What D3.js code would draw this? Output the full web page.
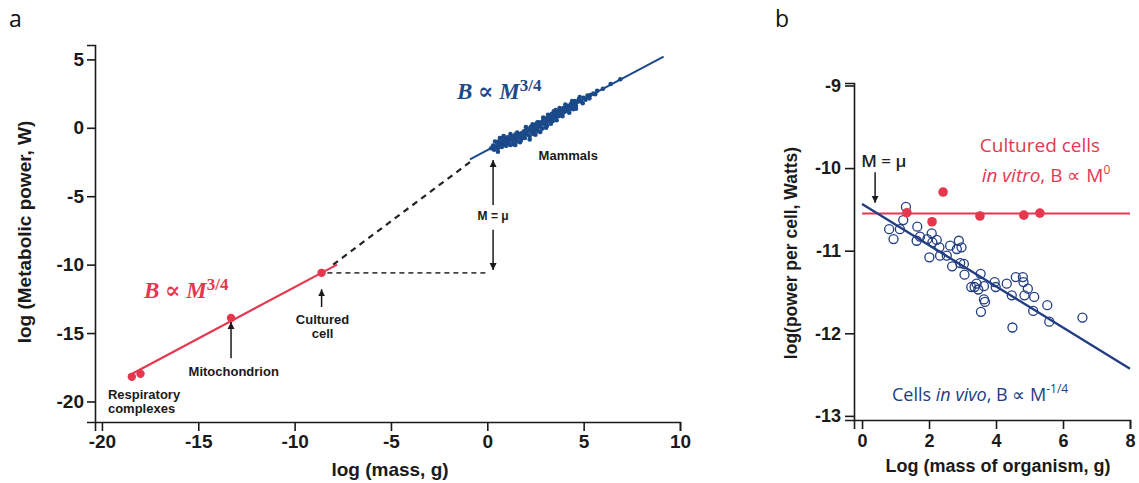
<!DOCTYPE html>
<html><head><meta charset="utf-8">
<script src="https://cdn.jsdelivr.net/npm/d3@7/dist/d3.min.js"></script>
<style>body{margin:0;background:#fff} svg{display:block}</style>
</head><body><svg id="c" width="1139" height="483"></svg>
<script>
// ---------- Panel a data ----------
const aXTicks = [-20, -15, -10, -5, 0, 5, 10];
const aYTicks = [5, 0, -5, -10, -15, -20];
const aCellPoints = [[-18.45, -18.2], [-18.0, -17.98], [-13.3, -13.9], [-8.6, -10.6]];
const aCellFit = [[-18.6, -18.1], [-7.8, -10.0]];
const aBridge = [[-8.0, -10.0], [-0.8, -2.4]];
const aMuLevel = [[-8.3, -10.6], [0.0, -10.6]];
const aMammalFit = [[-0.9, -2.3], [9.15, 5.2]];
const aMammals = [
  [0.2,-1.5],[0.3,-1.3],[0.35,-1.6],[0.45,-1.35],[0.5,-1.05],[0.55,-1.5],[0.6,-1.25],[0.65,-0.75],
  [0.7,-1.15],[0.75,-1.4],[0.8,-0.95],[0.85,-1.2],[0.9,-0.8],[0.95,-1.3],[1.0,-0.95],[1.05,-0.7],
  [1.1,-1.1],[1.15,-0.85],[1.2,-1.25],[1.25,-0.6],[1.3,-0.95],[1.35,-0.75],[1.4,-1.05],[1.45,-0.5],
  [1.5,-0.85],[1.55,-0.65],[1.6,-1.0],[1.65,-0.45],[1.7,-0.7],[1.75,-0.9],[1.8,-0.4],[1.85,-0.6],
  [1.9,-0.25],[1.95,-0.75],[2.0,-0.35],[2.05,-0.05],[2.1,-0.5],[2.15,-0.2],[2.2,-0.6],[2.25,0.05],
  [2.3,-0.3],[2.35,-0.1],[2.4,-0.45],[2.45,0.15],[2.5,-0.15],[2.55,0.3],[2.6,0.0],[2.65,-0.25],
  [2.7,0.4],[2.75,0.1],[2.8,0.35],[2.85,-0.05],[2.9,0.55],[2.95,0.25],[3.0,0.7],[3.05,0.4],
  [3.1,0.15],[3.15,0.6],[3.2,0.85],[3.25,0.45],[3.3,0.7],[3.35,1.0],[3.4,0.5],[3.45,0.8],
  [3.5,1.05],[3.55,0.65],[3.6,0.9],[3.65,1.2],[3.7,0.85],[3.75,1.1],[3.8,1.35],[3.85,0.95],
  [3.9,1.2],[3.95,1.45],[4.0,1.15],[4.1,1.5],[4.15,1.25],[4.2,1.6],[4.3,1.4],[4.35,1.75],
  [4.4,1.55],[4.5,1.8],[4.55,1.95],[4.6,1.6],[4.7,1.9],[4.75,2.1],[4.85,1.95],[5.0,2.2],
  [5.1,2.05],[5.2,2.35],[5.35,2.4],[5.5,2.5],[5.7,2.7],[6.0,2.85],[6.4,3.2],[6.9,3.55],
  [0.9,-1.05],[1.2,-0.7],[1.5,-0.55],[1.8,-0.75],[2.1,-0.2],[2.4,0.0],[2.7,0.15],[3.0,0.35],
  [3.3,0.95],[3.6,1.0],[3.9,1.05],[4.2,1.35],[0.6,-1.0],[1.1,-0.9],[1.7,-0.55],[2.3,-0.05],
  [0.85,-0.6],[1.0,-1.3],[1.2,-0.45],[1.35,-1.2],[1.55,-0.35],[1.7,-1.05],[1.9,-0.55],[2.0,0.05],
  [2.2,-0.85],[2.35,0.25],[2.5,-0.5],[2.6,0.4],[2.75,-0.3],[2.9,0.75],[3.05,0.0],[3.15,0.95],
  [3.3,0.3],[3.45,1.2],[3.6,0.55],[3.75,1.45],[3.9,0.85],[4.05,1.7],[4.25,1.1],[4.4,1.95],
  [4.6,1.4],[4.8,2.25],[4.95,1.8],[5.3,2.15],[5.6,2.45],[0.4,-1.0],[0.55,-1.75],[0.75,-0.75],
  [1.45,-1.25],[2.45,-0.25],[3.55,1.3],[4.45,1.35]
];

// ---------- Panel b data ----------
const bXTicks = [0, 2, 4, 6, 8];
const bYTicks = [-9, -10, -11, -12, -13];
const bVitro = [[1.34, -10.54], [2.42, -10.29], [2.09, -10.65], [3.52, -10.58], [4.83, -10.57], [5.31, -10.545]];
const bVitroFit = [[0, -10.55], [8, -10.55]];
const bVivoFit = [[0, -10.435], [8, -12.43]];
const bVivo = [
  [0.81,-10.74],[0.94,-10.86],[1.13,-10.74],[1.23,-10.63],[1.31,-10.47],[1.65,-10.71],[1.63,-10.88],
  [1.73,-10.83],[1.95,-10.86],[2.08,-10.79],[2.10,-10.90],[2.23,-10.87],[2.31,-10.96],[2.01,-11.08],
  [2.53,-11.06],[2.63,-10.94],[2.69,-11.19],[2.83,-10.98],[2.89,-10.88],[2.97,-10.96],[3.04,-11.16],
  [3.06,-11.29],[3.26,-11.44],[3.36,-11.44],[3.42,-11.40],[3.47,-11.47],[3.54,-11.28],[3.64,-11.43],
  [3.64,-11.59],[3.67,-11.62],[3.55,-11.74],[3.96,-11.38],[3.99,-11.44],[4.32,-11.40],[4.47,-11.54],
  [4.59,-11.32],[4.80,-11.32],[4.82,-11.38],[4.85,-11.54],[4.95,-11.46],[5.14,-11.56],[5.11,-11.73],
  [5.53,-11.66],[5.59,-11.86],[4.49,-11.93],[6.58,-11.81],[2.33,-11.06],[2.93,-11.15]
];

const RED = "#e5384f", BLUE_A = "#1b4a8a", NAVY = "#223d82", INK = "#1a1a1a";
const svg = d3.select("#c");
const sans = "'Liberation Sans', Arial, Helvetica, sans-serif";

const defs = svg.append("defs");
defs.append("marker").attr("id","ah").attr("viewBox","0 0 10 10").attr("refX",10).attr("refY",5)
  .attr("markerUnits","userSpaceOnUse").attr("markerWidth",7).attr("markerHeight",8).attr("orient","auto")
  .append("path").attr("d","M0,0 L10,5 L0,10 z").attr("fill",INK);

function styleAxis(g, fs){
  g.select(".domain").attr("stroke",INK).attr("stroke-width",1.6);
  g.selectAll(".tick line").attr("stroke",INK).attr("stroke-width",1.6);
  g.selectAll(".tick text").attr("fill",INK).attr("font-family",sans).attr("font-weight","bold").attr("font-size",fs);
}
function rich(g, x, y, parts, attrs){
  const t = g.append("text").attr("x",x).attr("y",y);
  Object.entries(attrs).forEach(([k,v])=>t.attr(k,v));
  parts.forEach(p=>{
    const s = t.append("tspan").text(p.t);
    if(p.style) s.attr("font-style",p.style);
    if(p.size) s.attr("font-size",p.size);
    if(p.dy) s.attr("dy",p.dy);
    if(p.weight) s.attr("font-weight",p.weight);
  });
  return t;
}

// ---------- Panel a ----------
const ax = d3.scaleLinear().domain([-20.36, 10]).range([95, 680]);
const ay = d3.scaleLinear().domain([-21.5, 6.05]).range([422, 45]);
const A = svg.append("g");
A.append("text").attr("x",9).attr("y",27).text("a").attr("font-family","'Open Sans', sans-serif").attr("font-size",23).attr("fill","#111");

const gax = A.append("g").attr("transform","translate(0,422)")
  .call(d3.axisBottom(ax).tickValues(aXTicks).tickSizeOuter(0).tickSize(9).tickPadding(4).tickFormat(d3.format("d")));
styleAxis(gax, 19);
const gay = A.append("g").attr("transform","translate(95,0)")
  .call(d3.axisLeft(ay).tickValues(aYTicks).tickSizeOuter(0).tickSize(8).tickPadding(3).tickFormat(d3.format("d")));
styleAxis(gay, 19);
gax.selectAll(".tick text").text(d=>d<0?"-"+Math.abs(d):d);
gay.selectAll(".tick text").text(d=>d<0?"-"+Math.abs(d):d);

A.append("text").attr("x",390).attr("y",476).attr("text-anchor","middle").attr("font-family",sans)
  .attr("font-weight","bold").attr("font-size",19).attr("fill",INK).text("log (mass, g)");
A.append("text").attr("transform","translate(31,232) rotate(-90)").attr("text-anchor","middle").attr("font-family",sans)
  .attr("font-weight","bold").attr("font-size",19).attr("fill",INK).text("log (Metabolic power, W)");

const line = d3.line().x(d=>ax(d[0])).y(d=>ay(d[1]));
A.append("path").attr("d",line(aMuLevel)).attr("stroke","#444").attr("stroke-width",1.6).attr("stroke-dasharray","5,4").attr("fill","none");
A.append("path").attr("d",line(aBridge)).attr("stroke","#222").attr("stroke-width",2.2).attr("stroke-dasharray","6,5").attr("fill","none");
A.append("path").attr("d",line(aCellFit)).attr("stroke",RED).attr("stroke-width",2.2).attr("fill","none");
A.selectAll("circle.cp").data(aCellPoints).join("circle").attr("class","cp")
  .attr("cx",d=>ax(d[0])).attr("cy",d=>ay(d[1])).attr("r",4.2).attr("fill",RED);
A.selectAll("circle.mm").data(aMammals).join("circle").attr("class","mm")
  .attr("cx",d=>ax(d[0])).attr("cy",d=>ay(d[1])).attr("r",2.3).attr("fill",BLUE_A);
A.append("path").attr("d",line(aMammalFit)).attr("stroke",BLUE_A).attr("stroke-width",2).attr("fill","none");

function arrow(g, x1,y1,x2,y2){
  g.append("line").attr("x1",x1).attr("y1",y1).attr("x2",x2).attr("y2",y2)
   .attr("stroke",INK).attr("stroke-width",1.5).attr("marker-end","url(#ah)");
}
arrow(A, ax(-8.6), ay(-13.1), ax(-8.6), ay(-11.8));
arrow(A, ax(-13.3), ay(-16.85), ax(-13.3), ay(-14.2));
arrow(A, ax(0.3), ay(-5.65), ax(0.3), ay(-2.36));
arrow(A, ax(0.3), ay(-7.45), ax(0.3), ay(-10.4));

const lab = (g,x,y,t,anchor,fs)=>g.append("text").attr("x",x).attr("y",y).attr("text-anchor",anchor||"middle")
  .attr("font-family",sans).attr("font-weight","bold").attr("font-size",fs||13).attr("fill",INK).text(t);
lab(A, ax(4.2), ay(-2.36), "Mammals");
lab(A, ax(-8.55), ay(-14.34), "Cultured");
lab(A, ax(-8.55), ay(-15.36), "cell");
lab(A, ax(-13.16), ay(-18.14), "Mitochondrion");
lab(A, ax(-19.69), ay(-19.82), "Respiratory", "start");
lab(A, ax(-19.69), ay(-20.84), "complexes", "start");
lab(A, ax(0.3), ay(-6.75), "M = μ", "middle", 12);

const serif = "'Liberation Serif', 'DejaVu Serif', serif";
rich(A, 457, 99, [{t:"B",style:"italic"},{t:" ∝ "},{t:"M",style:"italic"},{t:"3/4",size:17,dy:-8}],
  {"font-family":serif,"font-weight":"bold","font-size":23,"fill":BLUE_A});
rich(A, 144, 298, [{t:"B",style:"italic"},{t:" ∝ "},{t:"M",style:"italic"},{t:"3/4",size:17,dy:-8}],
  {"font-family":serif,"font-weight":"bold","font-size":23,"fill":RED});

// ---------- Panel b ----------
const bx = d3.scaleLinear().domain([-0.24, 8]).range([854, 1130]);
const by = d3.scaleLinear().domain([-13.05, -8.97]).range([420, 83]);
const B = svg.append("g");
B.append("text").attr("x",775).attr("y",27).text("b").attr("font-family","'Open Sans', sans-serif").attr("font-size",23).attr("fill","#111");

const gbx = B.append("g").attr("transform","translate(0,420)")
  .call(d3.axisBottom(bx).tickValues(bXTicks).tickSizeOuter(0).tickSize(9).tickPadding(5).tickFormat(d3.format("d")));
styleAxis(gbx, 18);
const gby = B.append("g").attr("transform","translate(854,0)")
  .call(d3.axisLeft(by).tickValues(bYTicks).tickSizeOuter(0).tickSize(9).tickPadding(4).tickFormat(d3.format("d")));
styleAxis(gby, 18);
gby.selectAll(".tick text").text(d=>"-"+Math.abs(d));

B.append("text").attr("x",998).attr("y",472).attr("text-anchor","middle").attr("font-family",sans)
  .attr("font-weight","bold").attr("font-size",18).attr("fill",INK).text("Log (mass of organism, g)");
B.append("text").attr("transform","translate(797,253) rotate(-90)").attr("text-anchor","middle").attr("font-family",sans)
  .attr("font-weight","bold").attr("font-size",17.5).attr("fill",INK).text("log(power per cell, Watts)");

const lineB = d3.line().x(d=>bx(d[0])).y(d=>by(d[1]));
B.append("path").attr("d",lineB(bVitroFit)).attr("stroke",RED).attr("stroke-width",2.2).attr("fill","none");
B.selectAll("circle.vv").data(bVivo).join("circle").attr("class","vv")
  .attr("cx",d=>bx(d[0])).attr("cy",d=>by(d[1])).attr("r",4.5).attr("fill","none").attr("stroke",NAVY).attr("stroke-width",1.3);
B.append("path").attr("d",lineB(bVivoFit)).attr("stroke",NAVY).attr("stroke-width",2.4).attr("fill","none");
B.selectAll("circle.vt").data(bVitro).join("circle").attr("class","vt")
  .attr("cx",d=>bx(d[0])).attr("cy",d=>by(d[1])).attr("r",4.8).attr("fill",RED);

arrow(B, bx(0.39), by(-10.05), bx(0.39), by(-10.42));
const os = "'Open Sans', 'Noto Sans', sans-serif";
B.append("text").attr("x",bx(0.65)).attr("y",by(-9.99)).attr("text-anchor","middle").attr("font-family",os)
  .attr("font-size",17).attr("font-weight",600).attr("fill","#222").text("M = μ");
B.append("text").attr("x",1040).attr("y",by(-9.81)).attr("text-anchor","middle").attr("font-family",os)
  .attr("font-size",19).attr("fill",RED).text("Cultured cells");
rich(B, 1046, by(-10.17), [{t:"in vitro",style:"italic"},{t:", B ∝ M"},{t:"0",size:12,dy:-8}],
  {"font-family":os,"font-size":19,"fill":RED,"text-anchor":"middle"});
rich(B, 892, by(-12.82), [{t:"Cells "},{t:"in vivo",style:"italic"},{t:", B ∝ M"},{t:"-1/4",size:12,dy:-8}],
  {"font-family":os,"font-size":18,"fill":NAVY});
</script></body></html>
